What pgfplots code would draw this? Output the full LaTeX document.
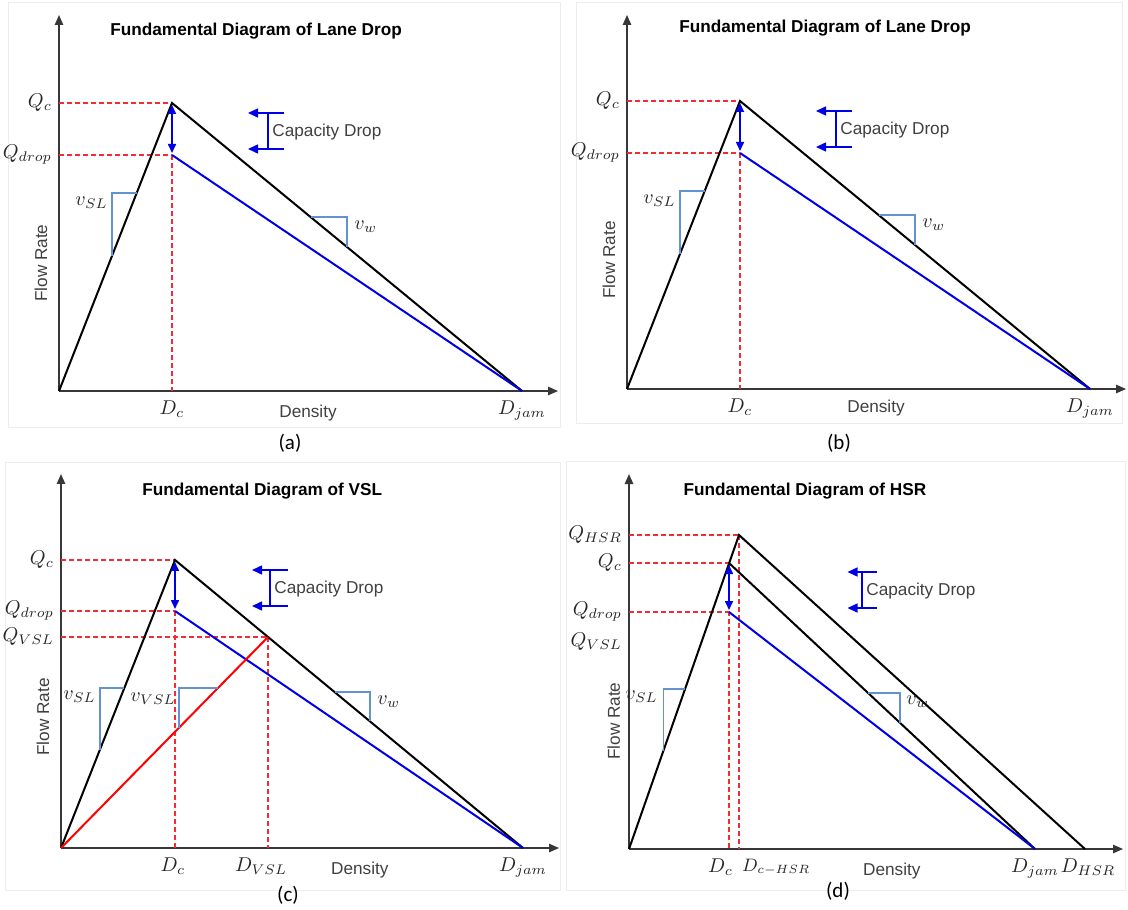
\documentclass[border=0pt]{standalone}
\usepackage{fontspec}
\setmainfont{Liberation Sans}
\newfontfamily\calfont{Carlito}
\usepackage{pgfplots}
\pgfplotsset{compat=1.18}
\usetikzlibrary{arrows.meta}

\definecolor{axgray}{RGB}{55,55,55}
\definecolor{dashred}{RGB}{238,45,55}
\definecolor{brk}{RGB}{100,145,210}
\definecolor{lblue}{RGB}{0,0,230}
\definecolor{txtgray}{RGB}{64,64,64}

\newcommand\fs{\fontsize{8.6}{10}\selectfont}
\newcommand\ms{\fontsize{9.6}{11}\selectfont}

\tikzset{vl/.style={font=\ms, inner sep=1pt, text=black!85}}

\pgfplotsset{
  fd/.style={
    scale only axis, clip=false, enlargelimits=false,
    anchor=south west,
    axis lines=left,
    axis line style={draw=axgray, line width=0.75pt, -{Triangle[length=5pt,width=4.2pt]}},
    major tick length=0pt,
    tick label style={font=\ms, text=black!85},
    xticklabel style={yshift=-1.5pt},
    title style={font=\fs\bfseries, anchor=center, yshift=-7pt},
    label style={font=\fs, text=txtgray},
    xlabel={Density}, ylabel={Flow Rate},
    xlabel style={anchor=center},
    ylabel style={anchor=center},
  },
  dsh/.style={dashred, line width=0.8pt, dash pattern=on 2.5pt off 1.5pt},
  blk/.style={black, line width=1pt},
  blu/.style={lblue, line width=1pt},
  brack/.style={brk, line width=0.55pt},
  drop/.style={lblue, line width=0.8pt, {Triangle[length=4.5pt,width=4pt]}-{Triangle[length=4.5pt,width=4pt]}},
  carr/.style={lblue, line width=0.75pt, -{Triangle[length=5pt,width=4.5pt]}},
}

% capacity drop marker: right x, left x, bar x, upper y, lower y, text x, text y
\newcommand\capdrop[7]{%
  \addplot[carr] coordinates {(#1,#4) (#2,#4)};
  \addplot[carr] coordinates {(#1,#5) (#2,#5)};
  \addplot[lblue, line width=0.75pt] coordinates {(#3,#4) (#3,#5)};
  \node[anchor=west, font=\fs, text=txtgray, inner sep=0pt] at (axis cs:#6,#7) {Capacity Drop};
}

% lane drop panel body (a) and (b)
\newcommand\lanedrop{%
  \addplot[dsh] coordinates {(0,288) (113,288)};
  \addplot[dsh] coordinates {(0,236) (113,236)};
  \addplot[dsh] coordinates {(113,236) (113,0)};
  \addplot[blk] coordinates {(0,0) (113,288) (463,0)};
  \addplot[blu] coordinates {(113,236) (463,0)};
  \addplot[drop] coordinates {(113,286) (113,238)};
  \addplot[brack] coordinates {(78,198) (53,198) (53,135)};
  \addplot[brack] coordinates {(252,174) (288,174) (288,144)};
  \node[vl, anchor=east] at (axis cs:51,188) {$v_{SL}$};
  \node[vl, anchor=west] at (axis cs:293,164) {$v_w$};
  \capdrop{225}{189}{209}{278}{242}{213}{259}
}

\begin{document}
\begin{tikzpicture}
\path[use as bounding box] (0,0) rectangle (564pt,-454.5pt);
\draw[black!7, line width=0.5pt] (4pt,-1.5pt) rectangle (280pt,-213.5pt);
\draw[black!7, line width=0.5pt] (288pt,-1.5pt) rectangle (561pt,-211.5pt);
\draw[black!7, line width=0.5pt] (2.5pt,-231pt) rectangle (280pt,-445pt);
\draw[black!7, line width=0.5pt] (283pt,-230.5pt) rectangle (562.5pt,-445pt);

% (a)
\begin{axis}[fd, at={(29.5pt,-195.5pt)}, width=249.5pt, height=188pt,
  xmin=0, xmax=499, ymin=0, ymax=376,
  xtick={113,463}, xticklabels={$D_c$,$D_{jam}$},
  ytick={236,288}, yticklabels={$Q_{drop}$,$Q_c$},
  title={Fundamental Diagram of Lane Drop},
  title style={at={(axis description cs:0.395,0.963)}},
  xlabel style={at={(axis description cs:0.499,-0.058)}},
  ylabel style={at={(axis description cs:-0.036,0.340)}},
]
\lanedrop
\end{axis}

% (b)
\begin{axis}[fd, at={(313.5pt,-194.5pt)}, width=249.5pt, height=187pt,
  xmin=0, xmax=499, ymin=0, ymax=374,
  xtick={113,463}, xticklabels={$D_c$,$D_{jam}$},
  ytick={236,288}, yticklabels={$Q_{drop}$,$Q_c$},
  title={Fundamental Diagram of Lane Drop},
  title style={at={(axis description cs:0.397,0.970)}},
  xlabel style={at={(axis description cs:0.499,-0.050)}},
  ylabel style={at={(axis description cs:-0.036,0.345)}},
]
\lanedrop
\end{axis}

% (c)
\begin{axis}[fd, at={(30.5pt,-424pt)}, width=249pt, height=187pt,
  xmin=0, xmax=498, ymin=0, ymax=374,
  xtick={112,200,462}, xticklabels={$D_c$,$D_{VSL}$,$D_{jam}$},
  ytick={211,237,288}, yticklabels={$Q_{VSL}$,$Q_{drop}$,$Q_c$},
  title={Fundamental Diagram of VSL},
  title style={at={(axis description cs:0.404,0.960)}},
  xlabel style={at={(axis description cs:0.600,-0.058)}},
  ylabel style={at={(axis description cs:-0.036,0.350)}},
]
\addplot[dsh] coordinates {(0,288) (114,288)};
\addplot[dsh] coordinates {(0,237) (114,237)};
\addplot[dsh] coordinates {(0,211) (207,211)};
\addplot[dsh] coordinates {(114,237) (114,0)};
\addplot[dsh] coordinates {(207,211) (207,0)};
\addplot[blk] coordinates {(0,0) (114,288) (462,0)};
\addplot[blu] coordinates {(114,237) (462,0)};
\addplot[red, line width=1pt] coordinates {(0,0) (207,211)};
\addplot[drop] coordinates {(114,286) (114,239)};
\addplot[brack] coordinates {(63,160) (39,160) (39,98.5)};
\addplot[brack] coordinates {(157,160) (118,160) (118,120.3)};
\addplot[brack] coordinates {(273.5,156) (309,156) (309,126.6)};
\node[vl, anchor=east] at (axis cs:37,151) {$v_{SL}$};
\node[vl, anchor=east] at (axis cs:117,149) {$v_{VSL}$};
\node[vl, anchor=west] at (axis cs:314,146) {$v_w$};
\capdrop{227}{191}{209}{278}{242}{213}{259}
\end{axis}

% (d)
\begin{axis}[fd, at={(314.5pt,-424.5pt)}, width=247pt, height=187.5pt,
  xmin=0, xmax=494, ymin=0, ymax=375,
  xtick={406,459}, xticklabels={$D_{jam}$,$D_{HSR}$},
  ytick={207,237,286,314}, yticklabels={$Q_{VSL}$,$Q_{drop}$,$Q_c$,$Q_{HSR}$},
  title={Fundamental Diagram of HSR},
  title style={at={(axis description cs:0.356,0.960)}},
  xlabel style={at={(axis description cs:0.532,-0.058)}},
  ylabel style={at={(axis description cs:-0.031,0.341)}},
]
\addplot[dsh] coordinates {(0,314) (110,314)};
\addplot[dsh] coordinates {(0,286) (100,286)};
\addplot[dsh] coordinates {(0,237) (100,237)};
\addplot[dsh] coordinates {(100,286) (100,0)};
\addplot[dsh] coordinates {(110,314) (110,0)};
\addplot[blk] coordinates {(0,0) (110,314) (456,0)};
\addplot[blk] coordinates {(100,286) (406,0)};
\addplot[blu] coordinates {(100,237) (406,0)};
\addplot[drop] coordinates {(100,284) (100,239)};
\addplot[brack] coordinates {(56,160) (34.5,160) (34.5,98.5)};
\addplot[brack] coordinates {(239,156) (271,156) (271,126)};
\node[vl, anchor=east] at (axis cs:31,152) {$v_{SL}$};
\node[vl, anchor=west] at (axis cs:275,147) {$v_w$};
\node[vl, anchor=north east, inner sep=0.333em, yshift=-1.5pt, xshift=2.5pt] at (axis cs:106,0) {$D_c$};
\node[vl, font=\fontsize{9}{10}\selectfont, anchor=north west, inner sep=0.333em, yshift=-1.8pt, xshift=-2.5pt] at (axis cs:111,0) {$D_{c-HSR}$};
\capdrop{247.5}{218.5}{233}{277}{241}{237}{258}
\end{axis}

\node[font=\calfont\fontsize{10.5}{12}\selectfont] at (145pt,-221.5pt) {(a)};
\node[font=\calfont\fontsize{10.5}{12}\selectfont] at (419.5pt,-221.5pt) {(b)};
\node[font=\calfont\fontsize{10.5}{12}\selectfont] at (144pt,-447.5pt) {(c)};
\node[font=\calfont\fontsize{10.5}{12}\selectfont] at (419pt,-445.5pt) {(d)};
\end{tikzpicture}
\end{document}
